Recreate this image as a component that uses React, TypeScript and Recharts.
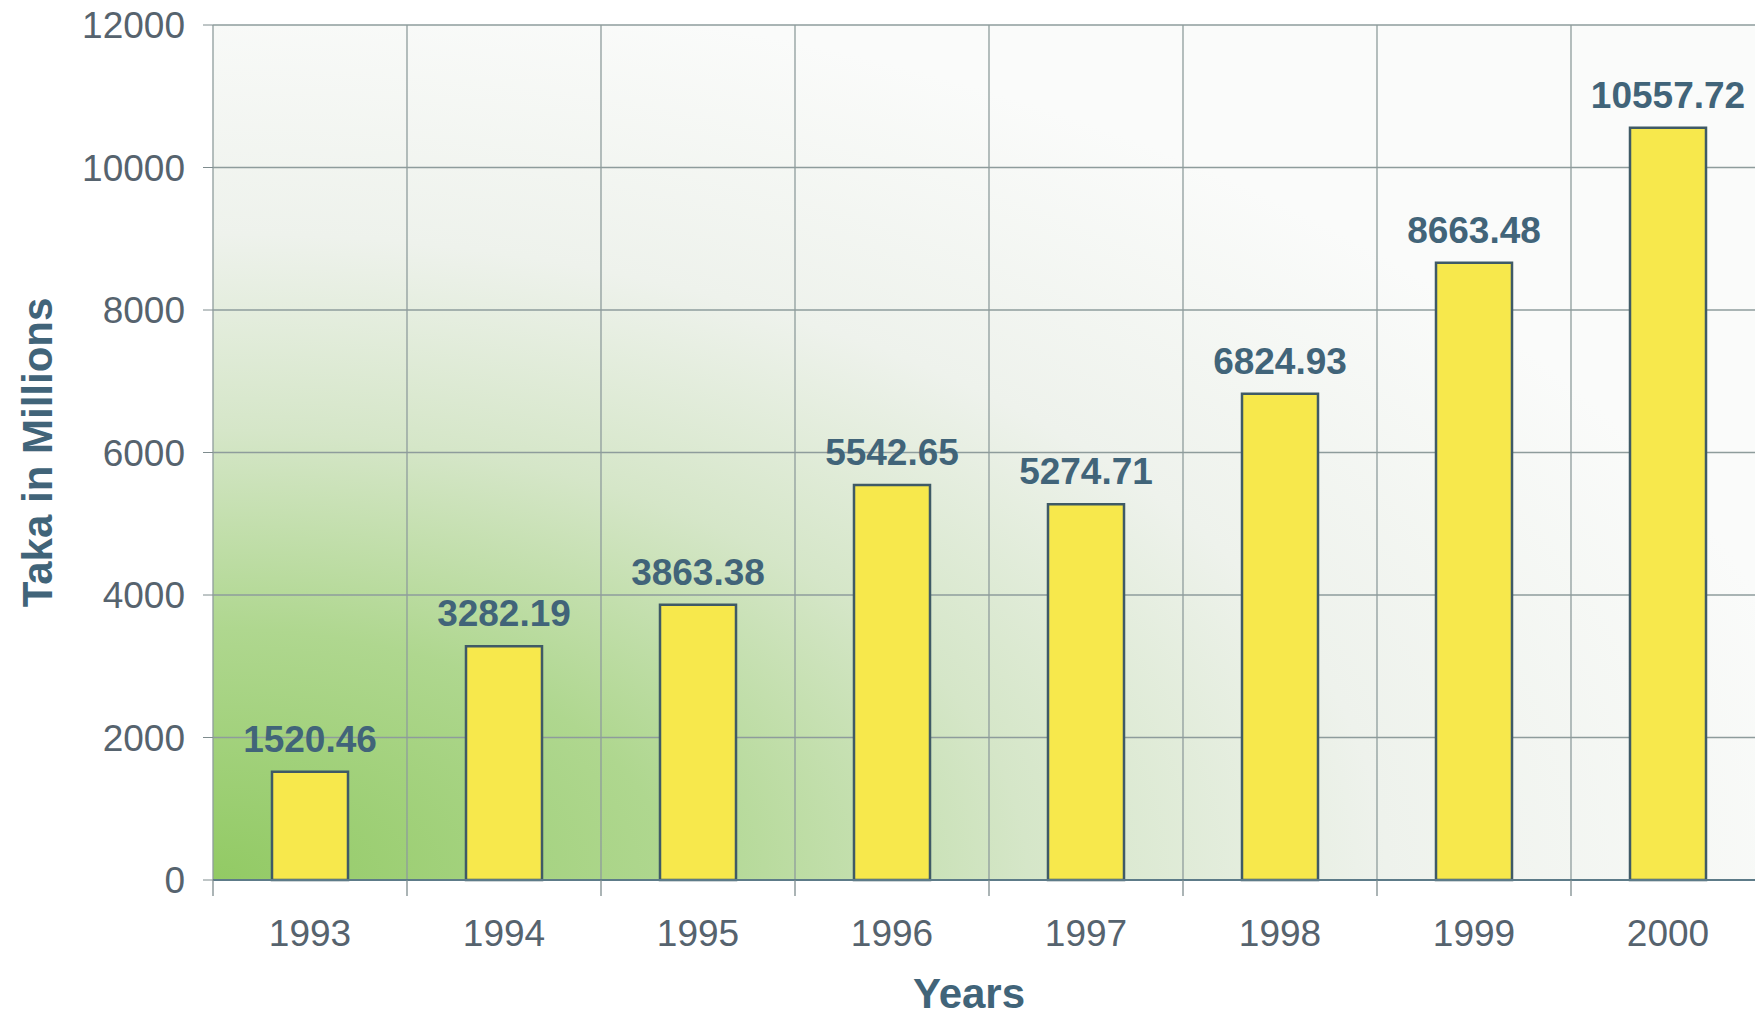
import { BarChart, Bar, XAxis, YAxis, CartesianGrid, LabelList } from "recharts";

const years = ["1993", "1994", "1995", "1996", "1997", "1998", "1999", "2000"];
const taka = [1520.46, 3282.19, 3863.38, 5542.65, 5274.71, 6824.93, 8663.48, 10557.72];
const yTicks = [0, 2000, 4000, 6000, 8000, 10000, 12000];

const data = years.map((year, i) => ({ year, value: taka[i] }));

const font = "'Liberation Sans', Arial, sans-serif";
const labelColor = "#416479";
const tickColor = "#56636e";
const X_TICK_SIZE = 6;
const X_TICK_MARGIN = 34;

// year label plus the small boundary tick to the left of each category
function YearTick(props: any) {
  const { x, y, payload, width } = props;
  const band = (width || 0) / years.length;
  const axisY = y - X_TICK_SIZE - X_TICK_MARGIN;
  return (
    <g>
      {band > 0 && (
        <line x1={x - band / 2} x2={x - band / 2} y1={axisY} y2={axisY + 16} stroke="#7e8c8e" strokeWidth={1.3} />
      )}
      <text x={x} y={y} dy="0.71em" textAnchor="middle" fill={tickColor} fontSize={37} fontFamily={font}>
        {payload.value}
      </text>
    </g>
  );
}

export default function App() {
  return (
    <div style={{ position: "absolute", left: 0, top: 0, width: 1755, height: 1016, overflow: "hidden", background: "#fff" }}>
      <BarChart
        width={1790}
        height={1016}
        data={data}
        margin={{ top: 25, right: 25, bottom: 0, left: 0 }}
        style={{ fontFamily: font }}
      >
        <defs>
          <radialGradient id="bg" cx="0" cy="1" r="1.05" gradientUnits="objectBoundingBox">
            <stop offset="0%" stopColor="#92ca64" />
            <stop offset="28%" stopColor="#afd78f" />
            <stop offset="50%" stopColor="#d5e6c8" />
            <stop offset="72%" stopColor="#eef2ec" />
            <stop offset="100%" stopColor="#fafbfa" />
          </radialGradient>
        </defs>
        <CartesianGrid
          stroke="#8e9c9c"
          strokeWidth={1.3}
          fill="url(#bg)"
          fillOpacity={1}
          verticalCoordinatesGenerator={({ offset }: any) =>
            [...years, ""].map((_, i) => offset.left + (i * offset.width) / years.length)
          }
        />
        <XAxis
          dataKey="year"
          height={136}
          tickLine={false}
          tickSize={X_TICK_SIZE}
          tickMargin={X_TICK_MARGIN}
          axisLine={{ stroke: "#5d7b88", strokeWidth: 2 }}
          tick={<YearTick />}
          label={{
            value: "Years",
            position: "insideBottom",
            offset: 8,
            dx: -20,
            style: { fill: labelColor, fontSize: 42, fontWeight: 700, fontFamily: font },
          }}
        />
        <YAxis
          width={213}
          domain={[0, 12000]}
          ticks={yTicks}
          interval={0}
          axisLine={false}
          tickSize={10}
          tickMargin={18}
          tickLine={{ stroke: "#7e8c8e" }}
          tick={{ fill: tickColor, fontSize: 37, fontFamily: font }}
          label={{
            value: "Taka in Millions",
            angle: -90,
            position: "insideLeft",
            offset: 37,
            style: { textAnchor: "middle", fill: labelColor, fontSize: 42, fontWeight: 700, fontFamily: font },
          }}
        />
        <Bar
          dataKey="value"
          barSize={76}
          fill="#f7e84c"
          stroke="#3f5a66"
          strokeWidth={2.5}
          isAnimationActive={false}
        >
          <LabelList
            dataKey="value"
            position="top"
            offset={20}
            formatter={(v: any) => Number(v).toFixed(2)}
            style={{ fill: labelColor, fontSize: 37, fontWeight: 700, fontFamily: font }}
          />
        </Bar>
      </BarChart>
    </div>
  );
}
